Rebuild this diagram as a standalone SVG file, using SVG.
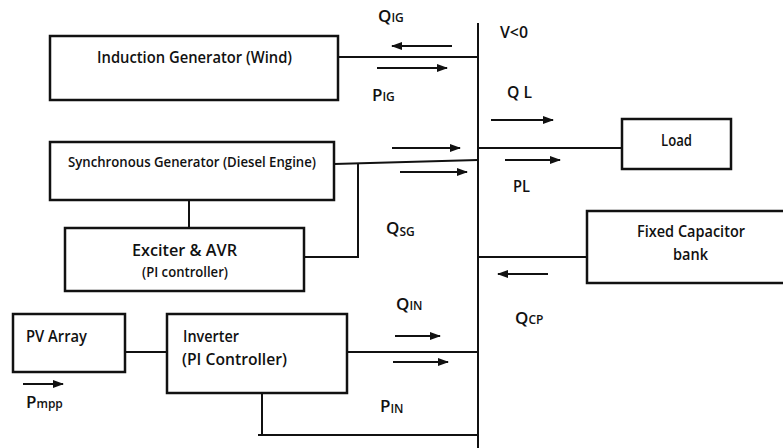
<svg xmlns="http://www.w3.org/2000/svg" width="783" height="448" viewBox="0 0 783 448">
<style>
.box{fill:#fff;stroke:#111;stroke-width:2.5}
.ln{fill:none;stroke:#111;stroke-width:2}
.ar{fill:none;stroke:#111;stroke-width:2;marker-end:url(#ah)}
text{font-family:"Open Sans","Liberation Sans",sans-serif;font-weight:600;fill:#111}
.t{font-size:15.5px}
.l{font-size:17px}
.s{font-size:12px}
</style>
<defs>
<marker id="ah" markerWidth="12" markerHeight="10" refX="10" refY="4" orient="auto" markerUnits="userSpaceOnUse">
<path d="M0,0 L11,4 L0,8 Z" fill="#111"/>
</marker>
</defs>
<rect width="783" height="448" fill="#fff"/>
<g id="connectors">
<line class="ln" x1="478" y1="23" x2="478" y2="448"/>
<line class="ln" x1="338" y1="57" x2="479" y2="57"/>
<line class="ln" x1="334" y1="164" x2="478" y2="160"/>
<line class="ln" x1="358" y1="163" x2="358" y2="257"/>
<line class="ln" x1="304" y1="257" x2="359" y2="257"/>
<line class="ln" x1="189" y1="201" x2="189" y2="228"/>
<line class="ln" x1="478" y1="148" x2="622" y2="148"/>
<line class="ln" x1="478" y1="257" x2="587" y2="257"/>
<line class="ln" x1="125" y1="352" x2="167" y2="352"/>
<line class="ln" x1="347" y1="352" x2="479" y2="352"/>
<line class="ln" x1="262" y1="393" x2="262" y2="435"/>
<line class="ln" x1="258" y1="435" x2="478" y2="435"/>
<line class="ar" x1="452" y1="46" x2="392" y2="46"/>
<line class="ar" x1="377" y1="68" x2="447" y2="68"/>
<line class="ar" x1="491" y1="120" x2="553" y2="120"/>
<line class="ar" x1="505" y1="160" x2="560" y2="160"/>
<line class="ar" x1="392" y1="148" x2="460" y2="148"/>
<line class="ar" x1="400" y1="172" x2="467" y2="172"/>
<line class="ar" x1="548" y1="274" x2="498" y2="274"/>
<line class="ar" x1="395" y1="336" x2="440" y2="336"/>
<line class="ar" x1="393" y1="362" x2="448" y2="362"/>
<line class="ar" x1="23" y1="384" x2="63" y2="384"/>
</g>
<g id="induction-generator">
<rect class="box" x="50" y="36" width="288" height="64"/>
<text class="t" x="97" y="63" textLength="195" lengthAdjust="spacingAndGlyphs">Induction Generator (Wind)</text>
</g>
<g id="synchronous-generator">
<rect class="box" x="50" y="142" width="284" height="58"/>
<text x="68" y="167" font-size="14" textLength="248" lengthAdjust="spacingAndGlyphs">Synchronous Generator (Diesel Engine)</text>
</g>
<g id="exciter-avr">
<rect class="box" x="65" y="228" width="239" height="63"/>
<text x="132" y="256" font-size="16" textLength="105" lengthAdjust="spacingAndGlyphs">Exciter  &amp;  AVR</text>
<text x="142" y="277" font-size="14" textLength="86" lengthAdjust="spacingAndGlyphs">(PI controller)</text>
</g>
<g id="load">
<rect class="box" x="622" y="119" width="109" height="50"/>
<text class="t" x="661" y="146" textLength="31" lengthAdjust="spacingAndGlyphs">Load</text>
</g>
<g id="fixed-capacitor-bank">
<rect class="box" x="587" y="211" width="200" height="72"/>
<text class="t" x="637" y="237" textLength="108" lengthAdjust="spacingAndGlyphs">Fixed Capacitor</text>
<text class="t" x="673" y="260" textLength="35" lengthAdjust="spacingAndGlyphs">bank</text>
</g>
<g id="pv-array">
<rect class="box" x="13" y="314" width="112" height="58"/>
<text class="t" x="26" y="342" textLength="61" lengthAdjust="spacingAndGlyphs">PV Array</text>
</g>
<g id="inverter">
<rect class="box" x="167" y="314" width="180" height="79"/>
<text class="t" x="183" y="342" textLength="56" lengthAdjust="spacingAndGlyphs">Inverter</text>
<text class="t" x="182" y="365" textLength="105" lengthAdjust="spacingAndGlyphs">(PI  Controller)</text>
</g>
<g id="labels">
<text x="378" y="22"><tspan class="l">Q</tspan><tspan class="s">IG</tspan></text>
<text class="t" x="500" y="38" textLength="28" lengthAdjust="spacingAndGlyphs">V&lt;0</text>
<text x="372" y="101"><tspan class="l">P</tspan><tspan class="s">IG</tspan></text>
<text class="l" x="507" y="98" textLength="25" lengthAdjust="spacingAndGlyphs">Q L</text>
<text class="l" x="513" y="192" textLength="17" lengthAdjust="spacingAndGlyphs">PL</text>
<text x="386" y="234"><tspan class="l">Q</tspan><tspan class="s" dy="2">SG</tspan></text>
<text x="515" y="324"><tspan class="l">Q</tspan><tspan class="s">CP</tspan></text>
<text x="396" y="310"><tspan class="l">Q</tspan><tspan class="s">IN</tspan></text>
<text x="380" y="412"><tspan class="l">P</tspan><tspan class="s" dy="1">IN</tspan></text>
<text x="26" y="408"><tspan class="l">P</tspan><tspan class="s">mpp</tspan></text>
</g>
</svg>
